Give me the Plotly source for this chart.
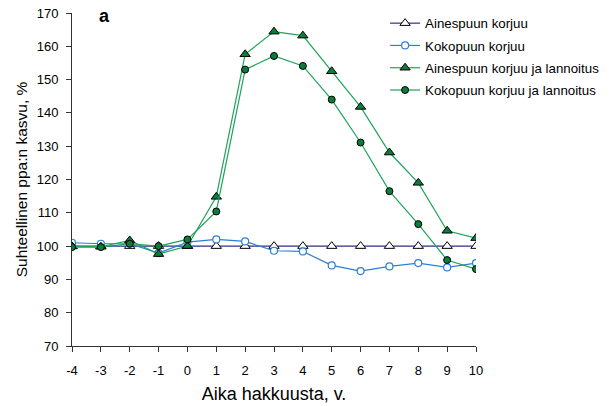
import plotly.graph_objects as go

# Years relative to the cutting
years = [-4, -3, -2, -1, 0, 1, 2, 3, 4, 5, 6, 7, 8, 9, 10]

# Relative basal-area growth, %
ainespuu = [100] * 15
kokopuu = [101.0, 100.7, 100.7, 97.9, 101.2, 102.0, 101.4, 98.6, 98.4, 94.2, 92.5, 93.9, 94.9, 93.6, 94.9]
ainespuu_lann = [99.9, 99.8, 101.7, 97.6, 100.0, 114.8, 157.6, 164.4, 163.2, 152.5, 141.8, 128.1, 119.0, 104.6, 102.4]
kokopuu_lann = [99.7, 99.7, 100.7, 100.0, 102.0, 110.4, 153.0, 157.1, 154.1, 144.0, 131.1, 116.5, 106.6, 95.8, 93.1]

names = [
    "Ainespuun korjuu",
    "Kokopuun korjuu",
    "Ainespuun korjuu ja lannoitus",
    "Kokopuun korjuu ja lannoitus",
]

x_ticks = list(range(-4, 11))
y_ticks = list(range(70, 171, 10))

FONT = "Liberation Sans, Arial, sans-serif"

fig = go.Figure()

fig.add_trace(go.Scatter(
    x=years, y=ainespuu, name=names[0], mode="lines+markers",
    line=dict(color="#2e2e8a", width=1.2),
    marker=dict(symbol="triangle-up", size=9, color="white",
                line=dict(color="black", width=1)),
    legendgroup="a",
))
fig.add_trace(go.Scatter(
    x=years, y=kokopuu, name=names[1], mode="lines+markers",
    line=dict(color="#2f7fd0", width=1.2),
    marker=dict(symbol="circle", size=7, color="white",
                line=dict(color="#2f7fd0", width=1.2)),
    legendgroup="b",
))
fig.add_trace(go.Scatter(
    x=years, y=ainespuu_lann, name=names[2], mode="lines+markers",
    line=dict(color="#1ea35a", width=1.2),
    marker=dict(symbol="triangle-up", size=9, color="#0b7d3a",
                line=dict(color="black", width=1)),
    legendgroup="c",
))
fig.add_trace(go.Scatter(
    x=years, y=kokopuu_lann, name=names[3], mode="lines+markers",
    line=dict(color="#1ea35a", width=1.2),
    marker=dict(symbol="circle", size=7, color="#0b7d3a",
                line=dict(color="black", width=1)),
    legendgroup="d",
))

fig.add_annotation(
    text="<b>a</b>", x=0.08, y=0.99, xref="paper", yref="paper",
    showarrow=False, font=dict(family=FONT, size=18, color="black"),
    xanchor="center", yanchor="middle",
)

fig.update_layout(
    width=609, height=406,
    margin=dict(l=72, r=133, t=13, b=60, autoexpand=False),
    paper_bgcolor="white", plot_bgcolor="white",
    font=dict(family=FONT, size=13, color="black"),
    showlegend=True,
    legend=dict(
        x=0.775, y=1.015, xref="paper", yref="paper",
        xanchor="left", yanchor="top",
        bgcolor="rgba(0,0,0,0)",
        font=dict(family=FONT, size=13.3, color="black"),
        tracegroupgap=2,
        itemwidth=30,
    ),
    xaxis=dict(
        range=[-4, 10], tickvals=x_ticks, ticktext=[str(v) for v in x_ticks],
        showgrid=False, zeroline=False, automargin=False,
        showline=True, linecolor="#333333", linewidth=1,
        ticks="outside", ticklen=5, tickcolor="#333333",
        ticklabelstandoff=7,
        tickfont=dict(family=FONT, size=13),
        title=dict(text="Aika hakkuusta, v.", font=dict(family=FONT, size=18),
                   standoff=10),
    ),
    yaxis=dict(
        range=[70, 170], tickvals=y_ticks,
        showgrid=False, zeroline=False, automargin=False,
        showline=True, linecolor="#333333", linewidth=1,
        ticks="outside", ticklen=5, tickcolor="#333333",
        ticklabelstandoff=5,
        tickfont=dict(family=FONT, size=13),
        title=dict(text="Suhteellinen ppa:n kasvu, %", font=dict(family=FONT, size=15.5),
                   standoff=5),
    ),
)

fig.write_html("out.html")
